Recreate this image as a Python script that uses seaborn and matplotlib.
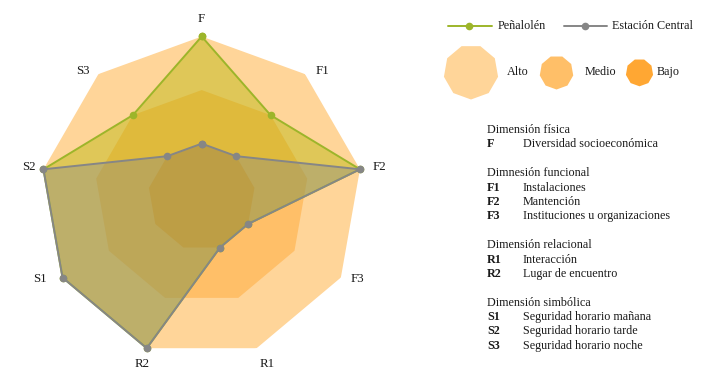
import numpy as np
import pandas as pd
import matplotlib
matplotlib.use("Agg")
import matplotlib.pyplot as plt
from matplotlib.patches import RegularPolygon
import seaborn as sns

# ---- data ----
axes_labels = ["F", "F1", "F2", "F3", "R1", "R2", "S1", "S2", "S3"]
penalolen = [3, 2, 3, 1, 1, 3, 3, 3, 2]
estacion_central = [1, 1, 3, 1, 1, 3, 3, 3, 1]
series_names = ["Peñalolén", "Estación Central"]
level_names = ["Alto", "Medio", "Bajo"]
level_values = [3, 2, 1]

legend_groups = [
    ("Dimensión física", [("F", "Diversidad socioeconómica")]),
    ("Dimnesión funcional", [("F1", "Instalaciones"), ("F2", "Mantención"),
                             ("F3", "Instituciones u organizaciones")]),
    ("Dimensión relacional", [("R1", "Interacción"), ("R2", "Lugar de encuentro")]),
    ("Dimensión simbólica", [("S1", "Seguridad horario mañana"),
                             ("S2", "Seguridad horario tarde"),
                             ("S3", "Seguridad horario noche")]),
]

# ---- style ----
sns.set_theme(style="white")
plt.rcParams["font.family"] = ["Liberation Serif", "DejaVu Serif"]

level_colors = ["#FFD599", "#FFBF68", "#FFA733"]
series_line = ["#9DB52A", "#868686"]
series_fill = ["#B4B400", "#888888"]
series_alpha = [0.42, 0.38]
text_color = "#1a1a1a"

# label offsets in pixels (right, down) from each outer vertex
label_offsets = [(0, -17.5), (17, -3), (19, -2.6), (16.5, 1.8), (10, 16),
                 (-5, 16), (-22.5, 1.8), (-15, -2.3), (-16, -3)]

W, H = 718, 386
fig = plt.figure(figsize=(W / 100, H / 100), dpi=100)

cx, cy, R = 201.7, 197.2, 160.7
ax = fig.add_axes([(cx - R) / W, 1 - (cy + R) / H, 2 * R / W, 2 * R / H], projection="polar")
ax.set_theta_zero_location("N")
ax.set_theta_direction(-1)

n = len(axes_labels)
theta = np.arange(n) * 2 * np.pi / n
theta_c = np.append(theta, 2 * np.pi)

for lv, col in zip(level_values, level_colors):
    ax.fill(theta_c, [lv] * (n + 1), color=col, lw=0, zorder=1)

rows = []
for name, vals in zip(series_names, [penalolen, estacion_central]):
    vc = list(vals) + [vals[0]]
    for t, v in zip(theta_c, vc):
        rows.append({"serie": name, "theta": t, "valor": v})
df = pd.DataFrame(rows)

for i, name in enumerate(series_names):
    d = df[df["serie"] == name]
    ax.fill(d["theta"], d["valor"], color=series_fill[i], alpha=series_alpha[i], lw=0, zorder=2 + i)
for i, name in enumerate(series_names):
    d = df[df["serie"] == name]
    sns.lineplot(data=d, x="theta", y="valor", ax=ax, sort=False, estimator=None,
                 color=series_line[i], lw=1.4, marker="o", markersize=5.5,
                 markeredgewidth=0, zorder=5 + i, clip_on=False)

ax.set_ylim(0, 3)
ax.set_yticks([])
ax.set_xticks(theta)
ax.set_xticklabels([])
for t, lab, (ox, oy) in zip(theta, axes_labels, label_offsets):
    ax.annotate(lab, xy=(t, max(level_values)), xytext=(ox, -oy), textcoords="offset pixels",
                ha="center", va="center", fontsize=9.3, color=text_color, annotation_clip=False)
ax.grid(False)
ax.spines["polar"].set_visible(False)
ax.set_xlabel("")
ax.set_ylabel("")
ax.patch.set_alpha(0)

# ---- overlay for legends ----
ov = fig.add_axes([0, 0, 1, 1])
ov.set_xlim(0, W)
ov.set_ylim(H, 0)
ov.axis("off")
ov.patch.set_alpha(0)

fs = 8.7
# line legend
ov.plot([448, 492], [26, 26], color=series_line[0], lw=1.4)
ov.plot([469], [26], "o", color=series_line[0], ms=5.5, mew=0)
ov.text(498, 26, series_names[0], fontsize=fs, va="center", ha="left", color=text_color)
ov.plot([564, 607], [26, 26], color=series_line[1], lw=1.4)
ov.plot([585], [26], "o", color=series_line[1], ms=5.5, mew=0)
ov.text(612, 26, series_names[1], fontsize=fs, va="center", ha="left", color=text_color)

# level legend nonagons
for (px, py, r, tx), name, col in zip([(471, 72, 27.5, 507), (556.5, 72.5, 17, 585), (639.5, 72.5, 13.8, 657)],
                                       level_names, level_colors):
    ov.add_patch(RegularPolygon((px, py), numVertices=9, radius=r, color=col, lw=0))
    ov.text(tx, 72, name, fontsize=fs, va="center", ha="left", color=text_color)

# explanation block
y = 130
for title, items in legend_groups:
    ov.text(487, y, title, fontsize=fs, va="center", ha="left", color=text_color)
    y += 14.3
    for code, desc in items:
        ov.text(487, y, code, fontsize=fs, va="center", ha="left", fontweight="bold", color=text_color)
        ov.text(523, y, desc, fontsize=fs, va="center", ha="left", color=text_color)
        y += 14.3
    y += 14.7

fig.savefig("out.png", dpi=100)
